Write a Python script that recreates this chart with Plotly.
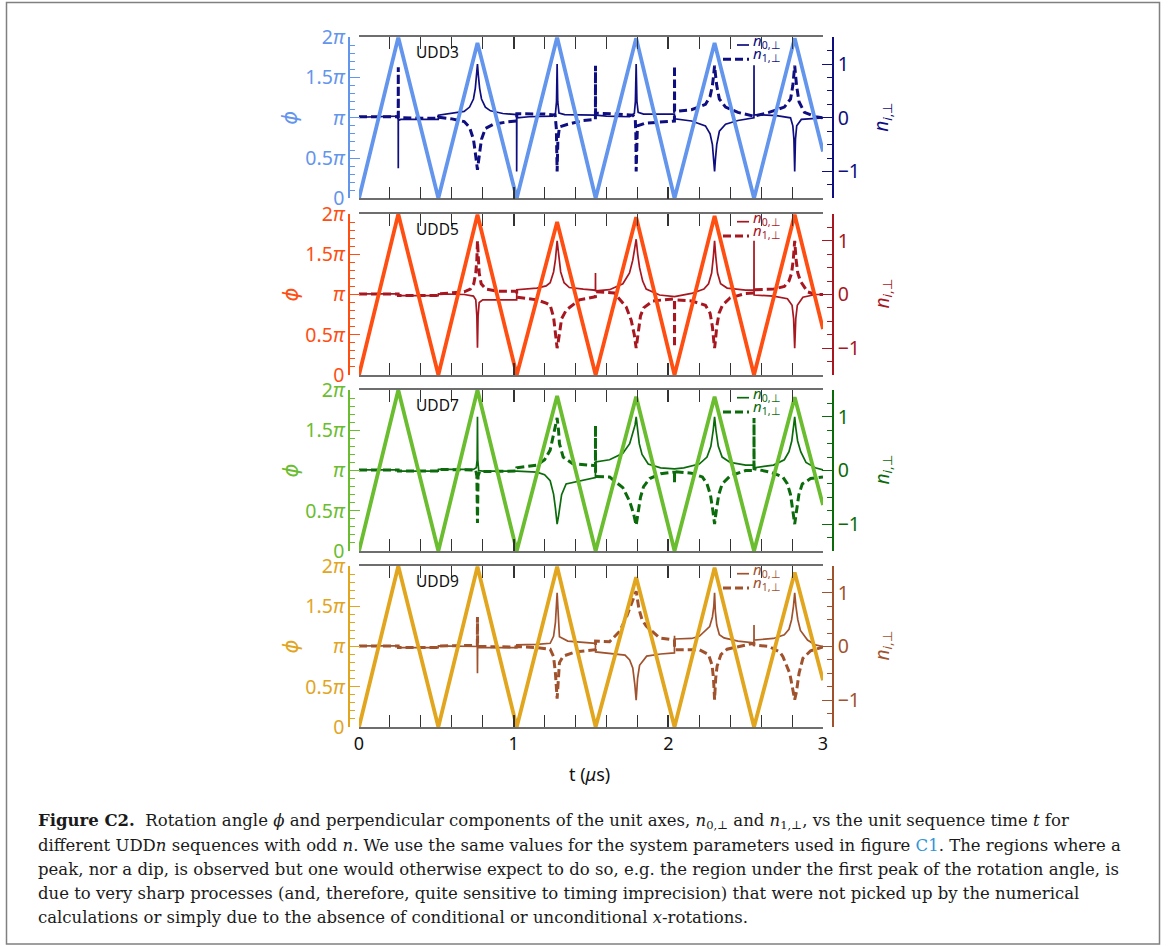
import plotly.graph_objects as go

W, H = 1174, 946

# ---- data: rotation angle phi (in units of pi) at the triangle corners ----
T_PHI = [0.0, 0.254, 0.513, 0.766, 1.02, 1.281, 1.53, 1.792, 2.04, 2.299, 2.554, 2.817, 3.0]
PHI_UDD3 = [0, 2.0, 0, 1.93, 0, 2.0, 0, 1.99, 0, 1.93, 0, 1.99, 0.58]
PHI_UDD5 = [0, 2.0, 0, 1.99, 0, 1.90, 0, 1.96, 0, 1.975, 0, 1.99, 0.57]
PHI_UDD7 = [0, 2.0, 0, 2.0, 0, 1.925, 0, 1.917, 0, 1.917, 0, 1.91, 0.57]
PHI_UDD9 = [0, 2.0, 0, 1.99, 0, 1.99, 0, 1.86, 0, 1.98, 0, 1.92, 0.58]

# ---- data: perpendicular components (t in us, n) ----
UDD3_N0 = [
    (0.0, 0.01), (0.2, 0.015), (0.245, 0.03), (0.2535, 0.05), (0.254, -0.94), (0.2545, -0.05), (0.27, -0.03), (0.5125, -0.03),
    (0.5135, 0.05), (0.6, 0.08), (0.68, 0.12), (0.715, 0.2), (0.74, 0.35), (0.752, 0.55), (0.76, 0.78), (0.766, 1.0),
    (0.772, 0.78), (0.78, 0.55), (0.792, 0.35), (0.817, 0.2), (0.85, 0.13), (0.93, 0.08), (1.019, 0.06),
    (1.0195, -1.0), (1.0205, 0.0), (1.1, 0.02), (1.25, 0.03), (1.27, 0.08), (1.277, 0.3), (1.281, 1.0), (1.285, 0.3),
    (1.293, 0.09), (1.33, 0.06), (1.53, 0.05),
    (1.6, 0.03), (1.75, 0.02), (1.78, 0.08), (1.787, 0.3), (1.792, 1.0), (1.797, 0.3), (1.805, 0.1), (1.84, 0.07), (2.0395, 0.07),
    (2.0405, -0.02), (2.15, -0.06), (2.24, -0.15), (2.27, -0.3), (2.285, -0.5), (2.293, -0.75), (2.299, -1.0), (2.305, -0.75),
    (2.313, -0.5), (2.33, -0.25), (2.37, -0.12), (2.45, -0.05), (2.5535, 0.0),
    (2.554, 0.98), (2.5545, 0.06), (2.7, 0.04), (2.79, 0.0), (2.805, -0.15), (2.812, -0.4), (2.817, -1.0), (2.822, -0.4),
    (2.83, -0.15), (2.86, -0.03), (3.0, 0.0),
]
UDD3_N1 = [
    (0.0, 0.02), (0.2535, 0.02), (0.254, 0.94), (0.2545, 0.0), (0.5125, -0.01), (0.5135, 0.01), (0.6, -0.02), (0.68, -0.07),
    (0.715, -0.18), (0.74, -0.4), (0.752, -0.65), (0.766, -0.97), (0.78, -0.65), (0.792, -0.4), (0.817, -0.2), (0.87, -0.12),
    (0.95, -0.08), (1.0195, -0.06),
    (1.0205, 0.075), (1.2, 0.07), (1.268, 0.05), (1.276, -0.2), (1.281, -1.0), (1.286, -0.4), (1.296, -0.17), (1.35, -0.12),
    (1.45, -0.05), (1.5285, -0.03),
    (1.529, 0.97), (1.5295, 0.09), (1.65, 0.07), (1.77, 0.05), (1.786, 0.0), (1.79, -0.3), (1.792, -1.0), (1.795, -0.3),
    (1.8, -0.15), (1.85, -0.1), (2.0395, -0.06),
    (2.04, 0.97), (2.0405, 0.12), (2.15, 0.15), (2.24, 0.25), (2.27, 0.4), (2.285, 0.6), (2.293, 0.8), (2.299, 0.97),
    (2.305, 0.8), (2.313, 0.6), (2.33, 0.35), (2.37, 0.2), (2.45, 0.1), (2.554, 0.03),
    (2.65, 0.1), (2.75, 0.2), (2.79, 0.35), (2.805, 0.6), (2.817, 0.97), (2.829, 0.6), (2.845, 0.3), (2.88, 0.1),
    (2.95, 0.02), (3.0, 0.0),
]

UDD5_N0 = [
    (0.0, 0.01), (0.2535, 0.01), (0.2545, -0.02), (0.5125, -0.02), (0.5135, 0.01), (0.68, 0.0), (0.74, -0.03), (0.755, -0.1),
    (0.762, -0.4), (0.766, -0.99), (0.77, -0.4), (0.777, -0.15), (0.8, -0.1), (1.0195, -0.1),
    (1.0205, 0.09), (1.15, 0.12), (1.21, 0.16), (1.236, 0.22), (1.258, 0.42), (1.27, 0.65), (1.281, 1.0), (1.292, 0.65),
    (1.304, 0.42), (1.326, 0.22), (1.36, 0.13), (1.45, 0.1), (1.5285, 0.08),
    (1.529, 0.4), (1.5295, 0.07), (1.62, 0.09), (1.706, 0.2), (1.749, 0.4), (1.77, 0.64), (1.782, 0.85), (1.792, 1.03),
    (1.802, 0.75), (1.814, 0.5), (1.834, 0.25), (1.857, 0.1), (1.943, -0.01), (2.0395, -0.04),
    (2.0405, -0.04), (2.15, 0.02), (2.23, 0.1), (2.26, 0.2), (2.28, 0.4), (2.291, 0.7), (2.299, 1.0), (2.307, 0.7),
    (2.318, 0.4), (2.338, 0.2), (2.38, 0.12), (2.5, 0.08), (2.5535, 0.08),
    (2.554, 1.0), (2.5545, -0.01), (2.68, -0.03), (2.77, -0.08), (2.8, -0.2), (2.81, -0.45), (2.817, -1.0), (2.824, -0.45),
    (2.834, -0.2), (2.87, -0.05), (2.95, 0.0), (3.0, 0.0),
]
UDD5_N1 = [
    (0.0, 0.01), (0.2535, 0.01), (0.2545, -0.02), (0.5125, -0.02), (0.5135, 0.01), (0.68, 0.05), (0.72, 0.1), (0.742, 0.2),
    (0.755, 0.4), (0.762, 0.65), (0.766, 1.0), (0.77, 0.65), (0.777, 0.4), (0.79, 0.2), (0.82, 0.1), (0.9, 0.06), (1.0195, 0.06),
    (1.0205, -0.05), (1.15, -0.1), (1.21, -0.16), (1.236, -0.2), (1.258, -0.42), (1.27, -0.7), (1.281, -1.0), (1.29, -0.85),
    (1.296, -0.73), (1.31, -0.45), (1.34, -0.29), (1.425, -0.1), (1.5285, -0.04),
    (1.529, 0.05), (1.65, 0.03), (1.684, -0.08), (1.727, -0.23), (1.76, -0.48), (1.78, -0.75), (1.792, -1.0), (1.805, -0.75),
    (1.82, -0.4), (1.84, -0.25), (1.9, -0.12), (2.0395, -0.08),
    (2.04, -0.98), (2.0405, -0.1), (2.15, -0.12), (2.24, -0.2), (2.27, -0.35), (2.285, -0.6), (2.295, -0.9), (2.299, -1.0),
    (2.303, -0.9), (2.313, -0.6), (2.328, -0.35), (2.35, -0.2), (2.4, -0.06), (2.5, 0.02), (2.5535, 0.03),
    (2.5545, 0.09), (2.68, 0.1), (2.75, 0.15), (2.78, 0.25), (2.797, 0.4), (2.808, 0.65), (2.817, 1.0), (2.826, 0.65),
    (2.837, 0.4), (2.854, 0.25), (2.9, 0.05), (2.95, 0.0), (3.0, 0.0),
]

UDD7_N0 = [
    (0.0, 0.01), (0.2535, 0.01), (0.2545, -0.01), (0.5125, -0.01), (0.5135, 0.02), (0.74, 0.02), (0.758, 0.05), (0.764, 0.2),
    (0.766, 1.0), (0.768, 0.2), (0.774, 0.0), (0.8, -0.01), (1.0195, -0.01),
    (1.0205, -0.01), (1.15, -0.03), (1.2, -0.08), (1.236, -0.19), (1.258, -0.44), (1.27, -0.7), (1.281, -1.0), (1.29, -0.85),
    (1.296, -0.7), (1.31, -0.45), (1.339, -0.25), (1.425, -0.19), (1.5285, -0.13),
    (1.5295, 0.16), (1.62, 0.2), (1.706, 0.32), (1.75, 0.5), (1.77, 0.7), (1.785, 0.85), (1.792, 1.0), (1.799, 0.8),
    (1.812, 0.5), (1.83, 0.3), (1.87, 0.12), (1.95, 0.05), (2.04, 0.03),
    (2.1, 0.05), (2.2, 0.12), (2.25, 0.25), (2.275, 0.45), (2.29, 0.75), (2.299, 1.0), (2.308, 0.75), (2.323, 0.45),
    (2.348, 0.25), (2.4, 0.15), (2.5, 0.1), (2.5535, 0.1),
    (2.5545, 0.05), (2.68, 0.1), (2.75, 0.2), (2.78, 0.35), (2.798, 0.55), (2.81, 0.8), (2.817, 1.0), (2.824, 0.8),
    (2.836, 0.55), (2.856, 0.35), (2.89, 0.15), (2.95, 0.05), (3.0, 0.01),
]
UDD7_N1 = [
    (0.0, 0.01), (0.2535, 0.01), (0.2545, -0.01), (0.5125, -0.01), (0.5135, 0.02), (0.755, 0.01), (0.762, -0.1), (0.766, -0.98),
    (0.77, -0.1), (0.78, -0.02), (1.0195, -0.01),
    (1.0205, 0.05), (1.15, 0.1), (1.2, 0.2), (1.236, 0.38), (1.258, 0.66), (1.272, 0.85), (1.281, 0.98), (1.29, 0.75),
    (1.296, 0.5), (1.32, 0.25), (1.38, 0.13), (1.5285, 0.09),
    (1.529, 0.84), (1.5295, -0.11), (1.62, -0.12), (1.706, -0.32), (1.749, -0.57), (1.775, -0.8), (1.792, -1.02), (1.805, -0.8),
    (1.82, -0.5), (1.84, -0.3), (1.88, -0.15), (1.95, -0.06), (2.0395, -0.03),
    (2.04, -0.22), (2.0405, -0.02), (2.15, -0.05), (2.22, -0.12), (2.25, -0.25), (2.272, -0.45), (2.288, -0.75), (2.299, -1.0),
    (2.31, -0.75), (2.326, -0.45), (2.348, -0.25), (2.4, -0.1), (2.5, 0.0), (2.5535, 0.0),
    (2.554, 0.98), (2.5545, 0.03), (2.66, -0.03), (2.74, -0.12), (2.77, -0.25), (2.79, -0.45), (2.805, -0.75), (2.817, -1.0),
    (2.829, -0.75), (2.844, -0.45), (2.866, -0.25), (2.92, -0.15), (3.0, -0.12),
]

UDD9_N0 = [
    (0.0, 0.01), (0.2535, 0.01), (0.2545, -0.02), (0.5125, -0.02), (0.5135, 0.01), (0.765, 0.0), (0.766, -0.5), (0.767, -0.02),
    (1.0195, -0.02),
    (1.0205, 0.03), (1.15, 0.04), (1.236, 0.06), (1.258, 0.19), (1.27, 0.45), (1.281, 1.0), (1.288, 0.45), (1.296, 0.18),
    (1.35, 0.1), (1.45, 0.07), (1.5285, 0.06),
    (1.5295, -0.1), (1.65, -0.13), (1.72, -0.16), (1.75, -0.25), (1.77, -0.4), (1.783, -0.7), (1.792, -1.0), (1.801, -0.6),
    (1.814, -0.35), (1.86, -0.18), (1.95, -0.14), (2.0395, -0.12),
    (2.04, 0.2), (2.0405, 0.14), (2.15, 0.15), (2.2, 0.19), (2.267, 0.37), (2.285, 0.55), (2.294, 0.75), (2.299, 1.0),
    (2.304, 0.65), (2.313, 0.4), (2.33, 0.22), (2.36, 0.16), (2.45, 0.1), (2.5535, 0.07),
    (2.554, 0.4), (2.5545, 0.12), (2.68, 0.15), (2.75, 0.22), (2.78, 0.32), (2.797, 0.5), (2.809, 0.75), (2.817, 1.0),
    (2.825, 0.75), (2.837, 0.5), (2.854, 0.3), (2.9, 0.12), (2.95, 0.03), (3.0, 0.0),
]
UDD9_N1 = [
    (0.0, 0.01), (0.2535, 0.01), (0.2545, -0.02), (0.5125, -0.02), (0.5135, 0.01), (0.765, 0.02), (0.766, 0.55), (0.767, 0.0),
    (1.0195, -0.01),
    (1.0205, 0.0), (1.15, -0.02), (1.236, -0.05), (1.258, -0.19), (1.27, -0.5), (1.281, -0.97), (1.288, -0.6), (1.296, -0.3),
    (1.32, -0.18), (1.4, -0.1), (1.5285, -0.06),
    (1.5295, 0.1), (1.62, 0.09), (1.684, 0.28), (1.727, 0.53), (1.76, 0.8), (1.792, 1.03), (1.81, 0.7), (1.83, 0.5),
    (1.857, 0.38), (1.943, 0.16), (2.0395, 0.12),
    (2.0405, -0.06), (2.2, -0.06), (2.26, -0.15), (2.283, -0.35), (2.292, -0.6), (2.299, -0.99), (2.306, -0.6), (2.315, -0.37),
    (2.34, -0.15), (2.38, -0.05), (2.45, 0.0), (2.5535, 0.06),
    (2.5545, 0.03), (2.65, 0.0), (2.72, -0.1), (2.741, -0.19), (2.785, -0.5), (2.806, -0.85), (2.817, -0.99), (2.828, -0.85),
    (2.845, -0.5), (2.87, -0.22), (2.92, -0.08), (3.0, -0.01),
]

PANELS = [
    dict(label="UDD3", phi=PHI_UDD3, n0=UDD3_N0, n1=UDD3_N1, c_phi="#6495ED", c_n="#0E0E80"),
    dict(label="UDD5", phi=PHI_UDD5, n0=UDD5_N0, n1=UDD5_N1, c_phi="#FF4E12", c_n="#A8161F"),
    dict(label="UDD7", phi=PHI_UDD7, n0=UDD7_N0, n1=UDD7_N1, c_phi="#6ABD2E", c_n="#0B6B0B"),
    dict(label="UDD9", phi=PHI_UDD9, n0=UDD9_N0, n1=UDD9_N1, c_phi="#E2A51E", c_n="#A0522D"),
]

CAPTION_LINES = [
    "<b>Figure C2.</b>\u00a0 Rotation angle <i>\u03d5</i> and perpendicular components of the unit axes, "
    "<i>n</i><sub>0,\u22a5</sub> and <i>n</i><sub>1,\u22a5</sub>, vs the unit sequence time <i>t</i> for",
    "different UDD<i>n</i> sequences with odd <i>n</i>. We use the same values for the system parameters used in figure "
    "<span style='color:#2f95d6'>C1</span>. The regions where a",
    "peak, nor a dip, is observed but one would otherwise expect to do so, e.g. the region under the first peak of the "
    "rotation angle, is",
    "due to very sharp processes (and, therefore, quite sensitive to timing imprecision) that were not picked up by the "
    "numerical",
    "calculations or simply due to the absence of conditional or unconditional <i>x</i>-rotations.",
]

# ---- geometry (pixels) ----
PLOT_L, PLOT_R = 359, 823          # frame of each panel
SPINE_L, SPINE_R = 349, 833        # offset y spines
PANEL_TOPS = [37.3, 214, 390, 566]
PANEL_H = 161
CAPTION_Y0, CAPTION_DY = 821, 24

TICK_FONT = "Noto Sans"
FRAME = "#6e6e6e"
TICKC = "#333333"


def px(x):
    return x / W


def py(y):
    return 1 - y / H


fig = go.Figure()
layout = dict(
    width=W, height=H, template="none",
    margin=dict(l=0, r=0, t=0, b=0),
    paper_bgcolor="white", plot_bgcolor="rgba(0,0,0,0)",
    showlegend=False,
)
annotations = []
shapes = []

for i, p in enumerate(PANELS):
    k = i + 1
    top = PANEL_TOPS[i]
    dom = [py(top + PANEL_H), py(top)]
    xname = "x" if k == 1 else f"x{k}"
    nname = "y" if k == 1 else f"y{2 * k - 1}"
    pname = f"y{2 * k}"
    last = (k == len(PANELS))

    layout["xaxis" if k == 1 else f"xaxis{k}"] = dict(
        domain=[px(PLOT_L), px(PLOT_R)], anchor=nname, range=[0, 3],
        showline=True, linecolor=FRAME, linewidth=1.5, mirror="allticks",
        ticks="inside", ticklen=12, tickwidth=1.5, tickcolor=TICKC, dtick=1, tick0=0,
        minor=dict(ticks="inside", dtick=0.2, ticklen=6, tickwidth=1.2, tickcolor=TICKC, showgrid=False),
        showgrid=False, zeroline=False, automargin=False,
        showticklabels=last, tickfont=dict(family=TICK_FONT, size=18, color="#111"),
    )
    # n axis (base, right side)
    layout["yaxis" if k == 1 else f"yaxis{2 * k - 1}"] = dict(
        domain=dom, anchor="free", position=px(SPINE_R), side="right", range=[-1.5, 1.5],
        showline=True, linecolor=p["c_n"], linewidth=1.5,
        ticks="inside", ticklen=10, tickwidth=1.3, tickcolor=p["c_n"],
        tickvals=[-1, 0, 1], ticktext=["\u22121", "0", "1"],
        minor=dict(ticks="inside", dtick=0.25, tick0=0, ticklen=5, tickwidth=1, tickcolor=p["c_n"], showgrid=False),
        tickfont=dict(family=TICK_FONT, size=19.5, color=p["c_n"]),
        showgrid=False, zeroline=False, automargin=False,
    )
    # phi axis (overlay, left side)
    layout[f"yaxis{2 * k}"] = dict(
        overlaying=nname, anchor="free", position=px(SPINE_L), side="left", range=[0, 2],
        showline=True, linecolor=p["c_phi"], linewidth=1.5,
        ticks="inside", ticklen=10, tickwidth=1.3, tickcolor=p["c_phi"],
        tickvals=[0, 0.5, 1, 1.5, 2],
        ticktext=["0", "0.5<i>\u03c0</i>", "<i>\u03c0</i>", "1.5<i>\u03c0</i>", "2<i>\u03c0</i>"],
        minor=dict(ticks="inside", dtick=0.1, tick0=0, ticklen=5, tickwidth=1, tickcolor=p["c_phi"], showgrid=False),
        tickfont=dict(family=TICK_FONT, size=19.5, color=p["c_phi"]),
        showgrid=False, zeroline=False, automargin=False,
    )

    t0, v0 = zip(*p["n0"])
    t1, v1 = zip(*p["n1"])
    fig.add_trace(go.Scatter(x=list(t0), y=list(v0), xaxis=xname, yaxis=nname, mode="lines",
                             line=dict(color=p["c_n"], width=1.7), name="n0"))
    fig.add_trace(go.Scatter(x=list(t1), y=list(v1), xaxis=xname, yaxis=nname, mode="lines",
                             line=dict(color=p["c_n"], width=3, dash="8px,4px"), name="n1"))
    fig.add_trace(go.Scatter(x=T_PHI, y=p["phi"], xaxis=xname, yaxis=pname, mode="lines",
                             line=dict(color=p["c_phi"], width=3.8), name="phi"))

    # panel label
    annotations.append(dict(text=p["label"], x=px(437.5), y=py(top + 14.5), xref="paper", yref="paper",
                            showarrow=False, xanchor="center", yanchor="middle",
                            font=dict(family=TICK_FONT, size=15.5, color="#111")))
    # axis titles
    annotations.append(dict(text="<i>\u03d5</i>", x=px(290), y=py(top + PANEL_H / 2), xref="paper", yref="paper",
                            showarrow=False, textangle=-90, xanchor="center", yanchor="middle",
                            font=dict(family="DejaVu Sans", size=21, color=p["c_phi"])))
    annotations.append(dict(text="<i>n</i><sub><i>i</i>,\u22a5</sub>", x=px(882), y=py(top + PANEL_H / 2),
                            xref="paper", yref="paper", showarrow=False, textangle=-90,
                            xanchor="center", yanchor="middle",
                            font=dict(family=TICK_FONT, size=19, color=p["c_n"])))
    # legend
    shapes.append(dict(type="line", xref="paper", yref="paper", x0=px(737), x1=px(749),
                       y0=py(top + 7.7), y1=py(top + 7.7), line=dict(color=p["c_n"], width=1.7)))
    shapes.append(dict(type="line", xref="paper", yref="paper", x0=px(723), x1=px(749),
                       y0=py(top + 22), y1=py(top + 22), line=dict(color=p["c_n"], width=3, dash="8px,4px")))
    annotations.append(dict(text="<i>n</i><sub>0,\u22a5</sub>", x=px(751), y=py(top + 4), xref="paper", yref="paper",
                            showarrow=False, xanchor="left", yanchor="middle",
                            font=dict(family=TICK_FONT, size=15, color=p["c_n"])))
    annotations.append(dict(text="<i>n</i><sub>1,\u22a5</sub>", x=px(751), y=py(top + 17), xref="paper", yref="paper",
                            showarrow=False, xanchor="left", yanchor="middle",
                            font=dict(family=TICK_FONT, size=15, color=p["c_n"])))

# x-axis title
annotations.append(dict(text="t (<i>\u03bc</i>s)", x=px(590), y=py(774), xref="paper", yref="paper",
                        showarrow=False, xanchor="center", yanchor="middle",
                        font=dict(family=TICK_FONT, size=18, color="#111")))

# caption, one annotation per line
for j, line in enumerate(CAPTION_LINES):
    annotations.append(dict(text=line, x=px(36), y=py(CAPTION_Y0 + j * CAPTION_DY), xref="paper", yref="paper",
                            showarrow=False, xanchor="left", yanchor="middle", align="left",
                            font=dict(family="DejaVu Serif", size=16.5, color="#1a1a1a")))

# outer border
shapes.append(dict(type="rect", xref="paper", yref="paper", x0=px(6.5), x1=px(1159.5), y0=py(944), y1=py(2.5),
                   line=dict(color="#808080", width=1.5), fillcolor="rgba(0,0,0,0)", layer="below"))

layout["annotations"] = annotations
layout["shapes"] = shapes
fig.update_layout(**layout)

fig.write_html("out.html")
